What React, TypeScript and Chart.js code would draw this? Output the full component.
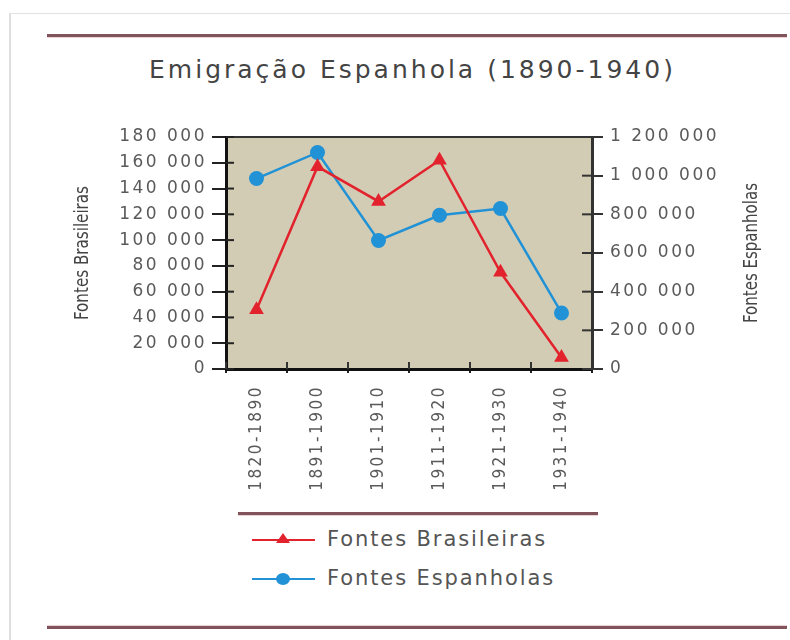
import React, { useEffect, useRef } from 'react';
import { Chart, registerables } from 'chart.js';

Chart.register(...registerables);

// ---------- data ----------
const chartTitle = 'Emigração Espanhola (1890-1940)';
const categories = ['1820-1890', '1891-1900', '1901-1910', '1911-1920', '1921-1930', '1931-1940'];
const seriesBrasileiras = [46000, 157000, 130000, 162000, 75000, 9000];
const seriesEspanholas = [985000, 1120000, 665000, 795000, 830000, 290000];
const labelBrasileiras = 'Fontes Brasileiras';
const labelEspanholas = 'Fontes Espanholas';
const leftAxisRange = [0, 180000];
const leftAxisStep = 20000;
const rightAxisRange = [0, 1200000];
const rightAxisStep = 200000;

// ---------- styles ----------
const RED = '#e2222c';
const BLUE = '#2192d6';
const PLOT_BG = '#d3ccb5';
const TICK_COLOR = '#5a5a5a';
const RULE = '#80545a';
const FONT = '"DejaVu Sans", sans-serif';
const FONT_COND = '"DejaVu Sans Condensed", "DejaVu Sans", sans-serif';

const CANVAS_LEFT = 40;
const CANVAS_TOP = 100;
const CANVAS_W = 750;
const CANVAS_H = 400;

const fmt = (v: number) => String(v).replace(/\B(?=(\d{3})+(?!\d))/g, ' ');

const decorPlugin = {
  id: 'decor',
  beforeDraw(chart: any) {
    const { ctx, chartArea } = chart;
    ctx.save();
    ctx.fillStyle = PLOT_BG;
    ctx.fillRect(chartArea.left, chartArea.top, chartArea.right - chartArea.left, chartArea.bottom - chartArea.top);
    ctx.restore();
    try { ctx.letterSpacing = '2.5px'; } catch (e) {}
  },
  afterDraw(chart: any) {
    const { ctx, chartArea } = chart;
    try { ctx.letterSpacing = '0px'; } catch (e) {}
    ctx.save();
    // top border of plot
    ctx.strokeStyle = '#333';
    ctx.lineWidth = 2;
    ctx.beginPath();
    ctx.moveTo(chartArea.left, chartArea.top);
    ctx.lineTo(chartArea.right, chartArea.top);
    ctx.stroke();
    // inner tick stubs
    const yl = chart.scales.y;
    const yr = chart.scales.y1;
    const xs = chart.scales.x;
    ctx.lineWidth = 2;
    ctx.strokeStyle = '#222';
    yl.ticks.forEach((_: any, i: number) => {
      const p = yl.getPixelForTick(i);
      ctx.beginPath();
      ctx.moveTo(chartArea.left, p);
      ctx.lineTo(chartArea.left + 8, p);
      ctx.stroke();
    });
    ctx.strokeStyle = '#333';
    yr.ticks.forEach((_: any, i: number) => {
      const p = yr.getPixelForTick(i);
      ctx.beginPath();
      ctx.moveTo(chartArea.right - 10, p);
      ctx.lineTo(chartArea.right, p);
      ctx.stroke();
    });
    const n = xs.ticks.length;
    for (let i = 0; i <= n; i++) {
      const p = xs.left + (i * (xs.right - xs.left)) / n;
      ctx.beginPath();
      ctx.moveTo(p, chartArea.bottom);
      ctx.lineTo(p, chartArea.bottom - 7);
      ctx.stroke();
    }
    // axis titles (both read bottom-to-top)
    const drawTitle = (text: string, cx: number, cy: number, len: number) => {
      ctx.save();
      ctx.font = '20px ' + FONT_COND;
      ctx.fillStyle = '#444';
      ctx.textAlign = 'center';
      ctx.textBaseline = 'middle';
      const w = ctx.measureText(text).width;
      ctx.translate(cx, cy);
      ctx.rotate(-Math.PI / 2);
      ctx.scale(len / w, 1);
      ctx.fillText(text, 0, 0);
      ctx.restore();
    };
    drawTitle(labelBrasileiras, 83 - CANVAS_LEFT, 253 - CANVAS_TOP, 134);
    drawTitle(labelEspanholas, 752 - CANVAS_LEFT, 253 - CANVAS_TOP, 140);
    ctx.restore();
  },
};

function LegendRow({ color, marker, label, top }: { color: string; marker: 'triangle' | 'circle'; label: string; top: number }) {
  return (
    <div style={{ position: 'absolute', left: 250, top: top - 12, height: 24, width: 400 }}>
      <svg width={70} height={24} style={{ position: 'absolute', left: 0, top: 0 }}>
        <line x1={2} y1={12} x2={65} y2={12} stroke={color} strokeWidth={2} />
        {marker === 'triangle' ? (
          <polygon points="33,5 40,15 26,15" fill={color} />
        ) : (
          <ellipse cx={33} cy={12} rx={7} ry={6} fill={color} />
        )}
      </svg>
      <div
        style={{
          position: 'absolute',
          left: 77,
          top: 1,
          font: '21px ' + FONT,
          lineHeight: '21px',
          letterSpacing: '1.9px',
          color: '#555',
          whiteSpace: 'nowrap',
        }}
      >
        {label}
      </div>
    </div>
  );
}

export default function App() {
  const ref = useRef<HTMLCanvasElement | null>(null);

  useEffect(() => {
    if (!ref.current) return;
    const chart = new Chart(ref.current, {
      type: 'line',
      data: {
        labels: categories,
        datasets: [
          {
            label: labelBrasileiras,
            data: seriesBrasileiras,
            yAxisID: 'y',
            borderColor: RED,
            backgroundColor: RED,
            borderWidth: 2.5,
            pointStyle: 'triangle',
            pointRadius: 8.5,
            pointBorderWidth: 0,
            tension: 0,
          },
          {
            label: labelEspanholas,
            data: seriesEspanholas,
            yAxisID: 'y1',
            borderColor: BLUE,
            backgroundColor: BLUE,
            borderWidth: 2.5,
            pointStyle: 'circle',
            pointRadius: 7.5,
            pointBorderWidth: 0,
            tension: 0,
          },
        ],
      },
      options: {
        responsive: false,
        animation: false,
        devicePixelRatio: 1,
        layout: { padding: { top: 37, left: 0, right: 0, bottom: 0 } },
        plugins: {
          legend: { display: false },
          title: { display: false },
          tooltip: { enabled: false },
        },
        scales: {
          x: {
            type: 'category',
            offset: true,
            grid: {
              offset: true,
              drawOnChartArea: false,
              drawTicks: true,
              tickLength: 4,
              color: '#222',
              lineWidth: 2,
            },
            border: { display: true, color: '#111', width: 3 },
            ticks: {
              minRotation: 90,
              maxRotation: 90,
              autoSkip: false,
              padding: 12,
              color: TICK_COLOR,
              font: { family: FONT_COND, size: 17 },
            },
            afterFit(scale: any) {
              scale.height = 131;
            },
          },
          y: {
            position: 'left',
            min: leftAxisRange[0],
            max: leftAxisRange[1],
            grid: {
              drawOnChartArea: false,
              drawTicks: true,
              tickLength: 14,
              color: '#222',
              lineWidth: 2,
            },
            border: { display: true, color: '#111', width: 3 },
            ticks: {
              stepSize: leftAxisStep,
              padding: 5,
              color: TICK_COLOR,
              font: { family: FONT, size: 17 },
              callback: (v: any) => fmt(Number(v)),
            },
            afterFit(scale: any) {
              scale.width = 226 - CANVAS_LEFT;
            },
          },
          y1: {
            position: 'right',
            min: rightAxisRange[0],
            max: rightAxisRange[1],
            grid: {
              drawOnChartArea: false,
              drawTicks: true,
              tickLength: 11,
              color: '#333',
              lineWidth: 2,
            },
            border: { display: true, color: '#333', width: 3 },
            ticks: {
              stepSize: rightAxisStep,
              padding: 7,
              color: TICK_COLOR,
              font: { family: FONT, size: 17 },
              callback: (v: any) => fmt(Number(v)),
            },
            afterFit(scale: any) {
              scale.width = CANVAS_LEFT + CANVAS_W - 592;
            },
          },
        },
      } as any,
      plugins: [decorPlugin],
    });
    return () => chart.destroy();
  }, []);

  return (
    <div
      style={{
        position: 'fixed',
        left: 0,
        top: 0,
        width: 790,
        height: 640,
        background: '#fff',
        overflow: 'hidden',
      }}
    >
      {/* faint frame */}
      <div style={{ position: 'absolute', left: 10, top: 13, width: 780, height: 1, background: '#e2e2e2' }} />
      <div style={{ position: 'absolute', left: 9, top: 13, width: 2, height: 627, background: '#dedede' }} />
      {/* rules */}
      <div style={{ position: 'absolute', left: 47, top: 34, width: 740, height: 3, background: RULE, boxShadow: '0 1px 1px #e8cfd2' }} />
      <div style={{ position: 'absolute', left: 238, top: 512, width: 360, height: 3, background: RULE, boxShadow: '0 1px 1px #e8cfd2' }} />
      <div style={{ position: 'absolute', left: 47, top: 626, width: 740, height: 3, background: RULE, boxShadow: '0 -1px 1px #e8cfd2' }} />
      {/* title */}
      <div
        style={{
          position: 'absolute',
          left: 0,
          width: 825,
          top: 57,
          textAlign: 'center',
          font: '25px ' + FONT,
          lineHeight: '25px',
          letterSpacing: '3px',
          color: '#444',
          whiteSpace: 'nowrap',
        }}
      >
        {chartTitle}
      </div>
      <canvas
        ref={ref}
        width={CANVAS_W}
        height={CANVAS_H}
        style={{ position: 'absolute', left: CANVAS_LEFT, top: CANVAS_TOP, width: CANVAS_W, height: CANVAS_H }}
      />
      <LegendRow color={RED} marker="triangle" label={labelBrasileiras} top={540} />
      <LegendRow color={BLUE} marker="circle" label={labelEspanholas} top={579} />
    </div>
  );
}
